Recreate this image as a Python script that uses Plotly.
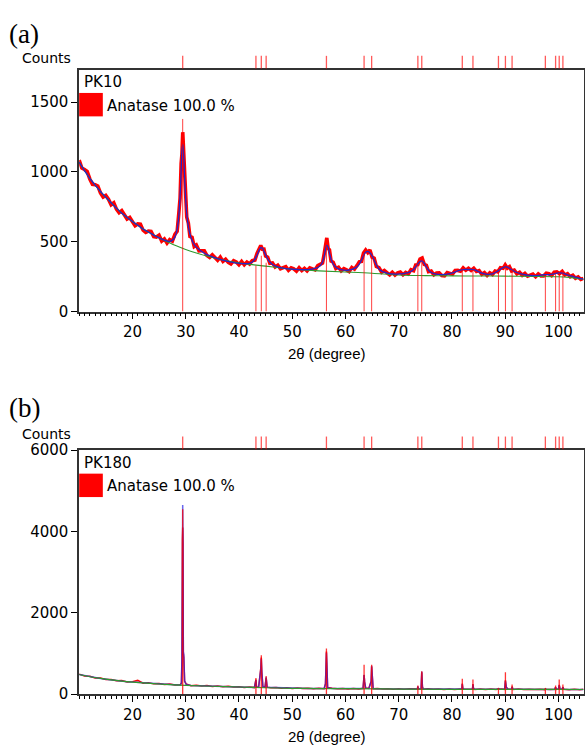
import plotly.graph_objects as go

# ---------------- data ----------------
# Anatase reference peak positions (2theta, degree)
ref_pos = [29.44, 43.19, 44.20, 45.11, 56.43, 63.50, 64.92, 73.60, 74.33,
           81.94, 83.94, 88.73, 90.04, 91.29, 97.54, 99.46, 100.14, 100.83]
# reference stick heights drawn in each panel (counts)
stick_a = [1380, 330, 400, 350, 470, 410, 390, 340, 360,
           300, 300, 280, 320, 300, 262, 270, 278, 276]
stick_b = [4550, 400, 960, 450, 1125, 723, 723, 217, 563,
           378, 361, 137, 540, 241, 137, 217, 361, 241]

# ---- panel (a) PK10 ----
x_a = [10.0, 10.5, 11.0, 11.5, 12.0, 12.5, 13.0, 13.5, 14.0, 14.5, 15.0, 15.5, 16.0, 16.5,
       17.0, 17.5, 18.0, 18.5, 19.0, 19.5, 20.0, 20.5, 21.0, 21.5, 22.0, 22.5, 23.0, 23.5,
       24.0, 24.5, 25.0, 25.5, 26.0, 26.5, 27.0, 27.5, 28.0,
       28.4, 28.7, 28.95, 29.15, 29.3, 29.45, 29.6, 29.75, 29.95, 30.2, 30.5, 30.8, 31.2, 31.6,
       32.0, 32.5, 33.0, 33.5, 34.0, 34.5, 35.0, 35.5, 36.0, 36.5, 37.0, 37.5, 38.0, 38.5,
       39.0, 39.5, 40.0, 40.5, 41.0, 41.5, 42.0, 42.5,
       43.0, 43.4, 43.8, 44.1, 44.4, 44.7, 45.0, 45.4, 45.8, 46.3, 46.8,
       47.3, 47.8, 48.3, 48.8, 49.3, 49.8, 50.3, 50.8, 51.3, 51.8, 52.3, 52.8, 53.3, 53.8,
       54.3, 54.8, 55.3, 55.7,
       56.0, 56.25, 56.5, 56.75, 57.0, 57.3, 57.7,
       58.2, 58.7, 59.2, 59.7, 60.2, 60.7, 61.2, 61.7, 62.2,
       62.6, 63.0, 63.4, 63.8, 64.2, 64.6, 65.0, 65.4, 65.8,
       66.3, 66.8, 67.3, 67.8, 68.3, 68.8, 69.3, 69.8, 70.3, 70.8, 71.3, 71.8, 72.3,
       72.8, 73.2, 73.6, 74.0, 74.4, 74.8, 75.2, 75.6,
       76.1, 76.6, 77.1, 77.6, 78.1, 78.6, 79.1, 79.6, 80.1, 80.6, 81.1, 81.6, 82.1, 82.6,
       83.1, 83.6, 84.1, 84.6, 85.1, 85.6,
       86.1, 86.6, 87.1, 87.6, 88.1, 88.6, 89.1, 89.6, 90.0, 90.4, 90.8, 91.2, 91.7, 92.2,
       92.7, 93.2, 93.7, 94.2, 94.7, 95.2, 95.7, 96.2, 96.7, 97.2, 97.7, 98.2, 98.7, 99.2,
       99.7, 100.2, 100.7, 101.2, 101.7, 102.2, 102.7, 103.2, 103.7, 104.2, 104.7]
calc_a = [1070, 1040, 1010, 982, 955, 930, 906, 883, 860, 840, 820, 800, 780, 760,
          742, 723, 705, 690, 675, 660, 645, 632, 618, 605, 592, 581, 570, 559,
          548, 538, 528, 519, 512, 506, 503, 512, 535,
          590, 680, 830, 1010, 1150, 1200, 1130, 1000, 840, 700, 610, 555, 510, 480,
          462, 445, 430, 418, 408, 400, 393, 386, 380, 374, 369, 364, 359, 355,
          351, 348, 346, 344, 343, 343, 346, 355,
          375, 405, 440, 458, 455, 432, 408, 378, 355, 338, 327,
          320, 315, 311, 308, 306, 304, 303, 302, 301, 300, 300, 301, 302, 305,
          309, 316, 330, 355,
          395, 445, 475, 462, 420, 375, 340,
          318, 306, 300, 297, 296, 298, 302, 310, 322,
          340, 368, 400, 425, 432, 422, 400, 368, 335,
          305, 290, 282, 276, 272, 270, 269, 269, 270, 272, 275, 280, 288,
          302, 320, 342, 358, 362, 345, 318, 296,
          280, 272, 268, 266, 265, 266, 268, 272, 277, 284, 291, 297, 301, 302,
          301, 302, 300, 293, 284, 276,
          270, 267, 267, 271, 278, 290, 303, 316, 321, 319, 310, 300, 289, 280,
          273, 268, 264, 261, 259, 258, 258, 259, 261, 264, 265, 264, 266, 270,
          275, 278, 276, 270, 263, 257, 252, 247, 242, 237, 233]
obs_a = [1085, 1028, 1018, 1004, 950, 912, 909, 900, 850, 820, 832, 805, 766, 780,
         734, 708, 723, 696, 663, 674, 639, 615, 628, 626, 583, 568, 577, 575,
         537, 534, 547, 505, 521, 490, 515, 504, 555,
         575, 700, 812, 1062, 1128, 1285, 1160, 958, 872, 676, 634, 538, 532, 466,
         477, 435, 436, 436, 401, 388, 407, 390, 367, 390, 360, 375, 353, 341,
         364, 355, 335, 359, 335, 355, 341, 365,
         369, 417, 460, 473, 447, 448, 398, 390, 346, 349, 320,
         332, 307, 315, 322, 296, 313, 306, 290, 314, 294, 310, 292, 313, 307,
         299, 329, 338, 348,
         412, 472, 528, 452, 442, 362, 354,
         308, 318, 292, 308, 299, 287, 316, 304, 331,
         357, 360, 420, 442, 423, 441, 390, 382, 323,
         315, 282, 294, 279, 263, 282, 262, 278, 283, 264, 281, 270, 300,
         293, 334, 336, 377, 384, 338, 332, 286,
         290, 263, 276, 278, 258, 256, 279, 275, 268, 294, 295, 289, 313, 296,
         310, 295, 311, 288, 294, 267,
         279, 259, 278, 265, 290, 285, 314, 310, 335, 311, 322, 291, 297, 271,
         282, 260, 274, 254, 262, 268, 250, 270, 255, 255, 275, 271, 258, 282,
         285, 272, 288, 262, 272, 250, 260, 239, 248, 230, 238]
bg_a_x = [10, 12, 14, 16, 18, 20, 22, 24, 26, 28, 30, 32, 35, 38, 40, 42, 45, 48, 50,
          55, 60, 65, 70, 75, 80, 85, 90, 95, 100, 102, 104.7]
bg_a_y = [1070, 955, 860, 780, 705, 645, 592, 548, 510, 475, 445, 420, 388, 362, 350,
          338, 326, 312, 303, 292, 284, 275, 262, 258, 256, 255, 254, 252, 250, 245, 232]

# ---- panel (b) PK180 ----
x_b = [10, 11, 12, 13, 14, 15, 16, 17, 18, 19, 20, 21, 22, 23, 24, 25, 26, 27, 28, 28.6,
       29.0, 29.2, 29.3, 29.38, 29.44, 29.5, 29.56, 29.65, 29.8, 30.1, 31, 32, 33, 34, 35,
       36, 37, 38, 39, 40, 41, 42, 42.9, 43.1, 43.19, 43.3, 43.7, 44.1, 44.2, 44.3, 44.5,
       44.9, 45.11, 45.3, 46, 47, 48, 49, 50, 51, 52, 53, 54, 55, 56.0, 56.25, 56.35, 56.43,
       56.52, 56.65, 57.5, 58.5, 59.5, 60.5, 61.5, 62.5, 63.3, 63.42, 63.5, 63.6, 63.8,
       64.4, 64.82, 64.92, 65.02, 65.2, 66, 67, 68, 69, 70, 71, 72, 73, 73.5, 73.6, 73.72,
       74.2, 74.33, 74.45, 74.6, 75.5, 76.5, 77.5, 78.5, 79.5, 80.5, 81.5, 81.85, 81.94,
       82.05, 82.3, 83, 83.85, 83.94, 84.05, 84.3, 85.3, 86.3, 87.3, 88.3, 88.73, 89.2,
       89.9, 90.04, 90.2, 90.5, 91.2, 91.29, 91.45, 92.5, 93.5, 94.5, 95.5, 96.5, 97.4,
       97.54, 97.7, 98.5, 99.3, 99.46, 99.6, 100.0, 100.14, 100.3, 100.7, 100.83, 101.0,
       102, 103, 104, 104.7]
calc_b = [485, 457, 430, 408, 388, 370, 352, 337, 322, 310, 298, 288, 278, 269, 260, 252,
          244, 237, 230, 229, 228, 290, 920, 4200, 4650, 3900, 1050, 980, 330, 240, 215,
          211, 207, 203, 196, 192, 188, 185, 181, 178, 174, 170, 168, 290, 350, 175, 173,
          600, 870, 520, 180, 178, 420, 170, 166, 158, 152, 149, 146, 145, 144, 142, 141,
          140, 140, 250, 700, 1020, 700, 160, 139, 138, 137, 136, 135, 134, 140, 320, 480,
          300, 150, 140, 300, 700, 300, 140, 133, 132, 130, 129, 128, 127, 127, 126, 126,
          190, 130, 130, 560, 180, 128, 126, 125, 124, 124, 123, 122, 122, 130, 250, 140,
          124, 123, 128, 240, 135, 123, 122, 121, 121, 121, 135, 121, 125, 330, 170, 122,
          125, 180, 122, 120, 120, 119, 119, 119, 119, 130, 119, 119, 119, 170, 125, 122,
          220, 130, 125, 170, 120, 118, 117, 116, 116]
obs_b = [495, 450, 440, 400, 398, 362, 362, 330, 335, 302, 310, 340, 272, 280, 255, 262,
         238, 250, 225, 236, 235, 270, 850, 3800, 4100, 3700, 1000, 900, 320, 250, 208,
         222, 200, 212, 190, 201, 182, 194, 176, 187, 168, 178, 163, 300, 360, 180, 168,
         640, 900, 560, 185, 172, 400, 175, 160, 166, 146, 157, 140, 152, 139, 149, 136,
         147, 135, 260, 750, 1050, 720, 165, 145, 132, 143, 130, 141, 129, 146, 330, 470,
         310, 145, 146, 320, 680, 290, 136, 139, 127, 136, 124, 134, 122, 133, 121, 131,
         185, 128, 136, 540, 190, 124, 132, 120, 130, 119, 129, 117, 128, 128, 260, 145,
         120, 129, 125, 250, 140, 119, 128, 116, 127, 116, 140, 126, 120, 340, 175, 127,
         121, 190, 118, 126, 115, 125, 114, 124, 114, 135, 124, 114, 124, 175, 120, 126,
         230, 128, 121, 178, 124, 113, 122, 112, 120]
bg_b_x = [10, 12, 14, 16, 18, 20, 22, 25, 28, 30, 35, 40, 45, 50, 55, 60, 70, 80, 90, 100, 104.7]
bg_b_y = [485, 430, 388, 352, 322, 298, 278, 252, 230, 218, 196, 178, 160, 146, 140, 136,
          128, 122, 120, 118, 116]

assert len(x_a) == len(calc_a) == len(obs_a)
assert len(x_b) == len(calc_b) == len(obs_b)

x_ticks = [20, 30, 40, 50, 60, 70, 80, 90, 100]
y_ticks_a = [0, 500, 1000, 1500]
y_ticks_b = [0, 2000, 4000, 6000]
panel_letters = ["(a)", "(b)"]
sample_names = ["PK10", "PK180"]
phase_label = "Anatase 100.0 %"
x_title = "2θ (degree)"
y_title = "Counts"

# ---------------- layout constants (pixels) ----------------
W, H = 585, 754
PX_L, PX_R = 79.3, 584.5
TOP_A, BOT_A = 62, 310
TOP_B, BOT_B = 452, 702
X_RANGE = [10, 104.7]
Y_RANGE_A = [0, 1734]
Y_RANGE_B = [0, 6000]
LETTER_Y = [26, 409]
COUNTS_Y = [50, 435]


def px(x):
    return x / W


def py(y):
    return 1 - y / H


RED = "#ff0000"
BLUE = "#2626c8"
GREEN = "#2e9a2e"
TICKFONT = dict(family="DejaVu Sans", size=15, color="black")


def sticks(pos, hts):
    xs, ys = [], []
    for p, h in zip(pos, hts):
        xs += [p, p, None]
        ys += [0, h, None]
    return xs, ys


fig = go.Figure()

# panel (a)
fig.add_trace(go.Scatter(x=x_a, y=obs_a, mode="lines", line=dict(color=RED, width=3.6),
                         xaxis="x", yaxis="y"))
fig.add_trace(go.Scatter(x=bg_a_x, y=bg_a_y, mode="lines", line=dict(color=GREEN, width=1.1, shape="spline"),
                         xaxis="x", yaxis="y"))
fig.add_trace(go.Scatter(x=x_a, y=calc_a, mode="lines", line=dict(color=BLUE, width=1.3, shape="spline"),
                         xaxis="x", yaxis="y"))
sx, sy = sticks(ref_pos, stick_a)
fig.add_trace(go.Scatter(x=sx, y=sy, mode="lines", line=dict(color="rgba(255,0,0,0.75)", width=1),
                         xaxis="x", yaxis="y"))

# panel (b)
fig.add_trace(go.Scatter(x=x_b, y=obs_b, mode="lines", line=dict(color=RED, width=1.5),
                         xaxis="x2", yaxis="y2"))
fig.add_trace(go.Scatter(x=x_b, y=calc_b, mode="lines", line=dict(color="rgba(40,40,230,0.7)", width=1.5),
                         xaxis="x2", yaxis="y2"))
fig.add_trace(go.Scatter(x=bg_b_x, y=bg_b_y, mode="lines", line=dict(color=GREEN, width=1.2, shape="spline"),
                         xaxis="x2", yaxis="y2"))
sx, sy = sticks(ref_pos, stick_b)
fig.add_trace(go.Scatter(x=sx, y=sy, mode="lines", line=dict(color="rgba(255,0,0,0.8)", width=1.3),
                         xaxis="x2", yaxis="y2"))

xaxis_common = dict(range=X_RANGE, domain=[px(PX_L), px(PX_R)], tickmode="array", tickvals=x_ticks,
                    ticks="outside", ticklen=6, tickwidth=1, tickcolor="black",
                    minor=dict(tickmode="linear", tick0=0, dtick=1, ticks="outside", ticklen=3,
                               tickcolor="black", tickwidth=1),
                    showline=True, linecolor="#333333", linewidth=1.5, mirror=True,
                    showgrid=False, zeroline=False, tickfont=TICKFONT)
yaxis_common = dict(tickmode="array", ticks="outside", ticklen=6, tickwidth=1, tickcolor="black",
                    showline=True, linecolor="#333333", linewidth=1.5, mirror=True,
                    showgrid=False, zeroline=False, tickfont=TICKFONT)

fig.update_layout(
    width=W, height=H, margin=dict(l=0, r=0, t=0, b=0),
    paper_bgcolor="white", plot_bgcolor="white", showlegend=False,
    xaxis=dict(anchor="y", **xaxis_common),
    xaxis2=dict(anchor="y2", **xaxis_common),
    yaxis=dict(anchor="x", domain=[py(BOT_A), py(TOP_A)], range=Y_RANGE_A, tickvals=y_ticks_a, **yaxis_common),
    yaxis2=dict(anchor="x2", domain=[py(BOT_B), py(TOP_B)], range=Y_RANGE_B, tickvals=y_ticks_b, **yaxis_common),
)

shapes = []
annotations = []
panels = [("x", TOP_A, BOT_A), ("x2", TOP_B, BOT_B)]
for i, (xr, top, bot) in enumerate(panels):
    # reference markers above the frame
    for p in ref_pos:
        shapes.append(dict(type="line", xref=xr, yref="paper", x0=p, x1=p,
                           y0=py(top - 1), y1=py(top - 14),
                           line=dict(color="rgba(255,0,0,0.65)", width=1.3)))
    # phase colour box
    shapes.append(dict(type="rect", xref="paper", yref="paper", x0=px(PX_L), x1=px(103),
                       y0=py(top + 48), y1=py(top + 24), fillcolor=RED, line=dict(width=0)))
    annotations += [
        dict(text=panel_letters[i], xref="paper", yref="paper", x=px(7), y=py(LETTER_Y[i]),
             xanchor="left", yanchor="middle", showarrow=False,
             font=dict(family="Liberation Serif", size=27, color="black")),
        dict(text=y_title, xref="paper", yref="paper", x=px(73), y=py(COUNTS_Y[i]),
             xanchor="right", yanchor="middle", showarrow=False,
             font=dict(family="DejaVu Sans", size=14, color="black")),
        dict(text=sample_names[i], xref="paper", yref="paper", x=px(82), y=py(top + 13),
             xanchor="left", yanchor="middle", showarrow=False,
             font=dict(family="DejaVu Sans", size=15, color="black")),
        dict(text=phase_label, xref="paper", yref="paper", x=px(105), y=py(top + 37),
             xanchor="left", yanchor="middle", showarrow=False,
             font=dict(family="DejaVu Sans", size=15, color="black")),
        dict(text=x_title, xref="paper", yref="paper", x=px(328), y=py(bot + 43),
             xanchor="center", yanchor="middle", showarrow=False,
             font=dict(family="Liberation Sans", size=15, color="black")),
    ]

fig.update_layout(shapes=shapes, annotations=annotations)
fig.write_html("out.html")
